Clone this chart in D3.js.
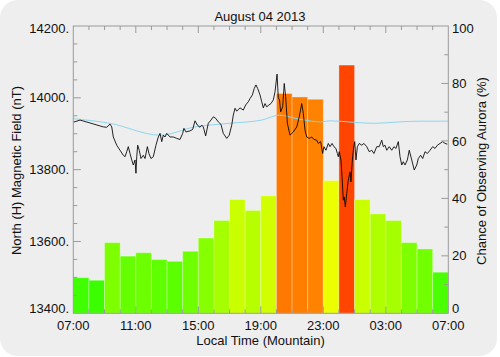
<!DOCTYPE html>
<html>
<head>
<meta charset="utf-8">
<script src="https://d3js.org/d3.v7.min.js"></script>
<style>
  html, body { margin: 0; padding: 0; background: #ffffff; }
  svg { display: block; }
  text { font-family: "Liberation Sans", Arial, sans-serif; fill: #111; }
</style>
</head>
<body>
<div id="chart"></div>
<script>
// ---------------- data ----------------
const chartTitle = "August 04 2013";
const xTitle = "Local Time (Mountain)";
const yLeftTitle = "North (H) Magnetic Field (nT)";
const yRightTitle = "Chance of Observing Aurora (%)";

// hourly aurora chance (%), one bar per hour starting 07:00
const barHours = d3.range(24);
const auroraChance = [12.4, 11.5, 24.6, 19.9, 21.1, 18.7, 18.1, 21.6, 26.2, 32.3, 39.6, 35.8,
                      40.9, 76.5, 75.3, 74.5, 46.2, 86.4, 39.6, 34.6, 32.3, 24.6, 22.4, 14.3];

// magnetometer H component (hours after 07:00, nT)
const magHours = [0, 0.43, 1.07, 1.92, 2.14, 2.35, 2.46, 2.56, 2.78, 2.99, 3.2, 3.31, 3.42, 3.52, 3.63, 3.74,
  3.84, 3.95, 4.01, 4.06, 4.12, 4.22, 4.33, 4.48, 4.59, 4.74, 4.84, 4.97, 5.12, 5.29, 5.44, 5.55, 5.66, 5.76,
  5.87, 5.98, 6.19, 6.4, 6.62, 6.83, 7.0, 7.08, 7.21, 7.47, 7.64, 7.79, 7.94, 8.11, 8.22, 8.32, 8.47, 8.64,
  8.81, 8.96, 9.11, 9.28, 9.45, 9.6, 9.82, 9.98, 10.14, 10.24, 10.35, 10.46, 10.67, 10.88, 11.03, 11.2, 11.31,
  11.46, 11.58, 11.69, 11.8, 11.95, 12.06, 12.16, 12.27, 12.38, 12.52, 12.65, 12.8, 12.91, 13.04, 13.12, 13.2,
  13.27, 13.4, 13.5, 13.59, 13.7, 13.87, 14.08, 14.3, 14.46, 14.62, 14.72, 14.83, 14.94, 15.1, 15.26, 15.4,
  15.58, 15.68, 15.83, 15.96, 16.04, 16.17, 16.32, 16.43, 16.56, 16.68, 16.81, 16.9, 16.96, 17.02, 17.13,
  17.2, 17.28, 17.34, 17.41, 17.5, 17.6, 17.71, 17.77, 17.86, 17.92, 18.01, 18.09, 18.18, 18.3, 18.46, 18.6,
  18.78, 18.94, 19.1, 19.24, 19.42, 19.58, 19.74, 19.84, 19.95, 20.06, 20.22, 20.38, 20.52, 20.65, 20.8,
  20.91, 21.02, 21.12, 21.23, 21.38, 21.5, 21.66, 21.82, 21.98, 22.08, 22.23, 22.36, 22.51, 22.66, 22.83,
  23.0, 23.15, 23.3, 23.47, 23.64, 23.79, 23.94];
const magNT = [13932, 13938, 13930, 13919, 13918, 13927, 13919, 13891, 13868, 13854, 13840, 13836, 13850,
  13864, 13845, 13827, 13813, 13827, 13790, 13836, 13868, 13854, 13831, 13840, 13831, 13864, 13845, 13831,
  13836, 13868, 13891, 13901, 13878, 13896, 13891, 13901, 13891, 13891, 13887, 13884, 13901, 13915, 13905,
  13908, 13912, 13936, 13924, 13918, 13924, 13919, 13894, 13929, 13938, 13947, 13943, 13933, 13926, 13901,
  13887, 13896, 13924, 13952, 13971, 13963, 13972, 13966, 13980, 13989, 13998, 14008, 14026, 14036, 14026,
  14008, 13989, 13972, 13984, 13975, 13980, 13984, 13994, 14017, 14066, 14000, 13994, 13961, 13975, 14040,
  14003, 13929, 13896, 13905, 13919, 13947, 13984, 13957, 13910, 13891, 13887, 13891, 13884, 13882, 13873,
  13878, 13845, 13864, 13854, 13873, 13864, 13873, 13864, 13859, 13845, 13836, 13850, 13827, 13780, 13715,
  13724, 13696, 13734, 13771, 13794, 13766, 13827, 13854, 13878, 13827, 13864, 13873, 13868, 13873, 13864,
  13850, 13854, 13845, 13864, 13864, 13882, 13864, 13868, 13854, 13864, 13854, 13864, 13859, 13878, 13836,
  13813, 13822, 13813, 13827, 13854, 13827, 13799, 13813, 13831, 13840, 13831, 13850, 13845, 13854, 13864,
  13859, 13868, 13873, 13878, 13873, 13871];

// smooth quiet-day baseline (hours after 07:00, nT)
const baseHours = [0, 2.35, 5.55, 7.79, 9.98, 12.06, 13.2, 14.2, 15.26, 15.83, 16.43, 17.92, 19.2, 20.91, 22.2, 24];
const baseNT = [13942, 13929, 13896, 13919, 13929, 13938, 13952, 13943, 13935, 13933, 13936, 13932, 13929, 13933, 13935, 13935];

// tick labels
const xTickHours = [0, 4, 8, 12, 16, 20, 24];
const xTickLabels = ["07:00", "11:00", "15:00", "19:00", "23:00", "03:00", "07:00"];
const yLeftTicks = [13400, 13600, 13800, 14000, 14200];
const yLeftTickLabels = ["13400.", "13600.", "13800.", "14000.", "14200."];
const yRightTicks = [0, 20, 40, 60, 80, 100];
const yRightTickLabels = ["0", "20", "40", "60", "80", "100"];

// ---------------- drawing ----------------
const W = 500, H = 357;
const svg = d3.select("#chart").append("svg").attr("width", W).attr("height", H);

// background panel
svg.append("rect").attr("x", 0).attr("y", 0).attr("width", 497).attr("height", 356)
  .attr("rx", 18).attr("ry", 18).attr("fill", "#eeeeee");

const x = d3.scaleLinear().domain([0, 24]).range([73.3, 448.3]);
const yL = d3.scaleLinear().domain([13400, 14200]).range([313.3, 26]);
const yR = d3.scaleLinear().domain([0, 100]).range([313.3, 26]);
const color = v => d3.hsl(120 * (1 - v / 100), 1, 0.5).formatHex();

// bars
svg.append("g").selectAll("rect").data(barHours).join("rect")
  .attr("x", h => x(h))
  .attr("width", h => x(h + 1) - x(h))
  .attr("y", (h, i) => yR(auroraChance[i]))
  .attr("height", (h, i) => yR(0) - yR(auroraChance[i]))
  .attr("fill", (h, i) => color(auroraChance[i]))
  .attr("stroke", "rgba(255,255,255,0.3)")
  .attr("stroke-width", 1);

// baseline line
const baseLine = d3.line().x(d => x(d[0])).y(d => yL(d[1])).curve(d3.curveMonotoneX);
svg.append("path").datum(baseHours.map((h, i) => [h, baseNT[i]]))
  .attr("d", baseLine).attr("fill", "none").attr("stroke", "#8fd6ef").attr("stroke-width", 1);

// magnetometer line
const magLine = d3.line().x(d => x(d[0])).y(d => yL(d[1]));
svg.append("path").datum(magHours.map((h, i) => [h, magNT[i]]))
  .attr("d", magLine).attr("fill", "none").attr("stroke", "#000").attr("stroke-opacity", 0.85).attr("stroke-width", 1);

// frame
const axisColor = "#9a9a9a";
const frame = svg.append("g").attr("stroke", axisColor).attr("fill", "none").attr("stroke-width", 1);
frame.append("rect").attr("x", x(0)).attr("y", yL(14200))
  .attr("width", x(24) - x(0)).attr("height", yL(13400) - yL(14200));

// x ticks (top and bottom, every hour)
const ticksG = svg.append("g").attr("stroke", axisColor).attr("stroke-width", 1);
d3.range(1, 24).forEach(h => {
  const len = h % 4 === 0 ? 7 : 4;
  ticksG.append("line").attr("x1", x(h)).attr("x2", x(h)).attr("y1", yL(14200)).attr("y2", yL(14200) + len);
  ticksG.append("line").attr("x1", x(h)).attr("x2", x(h)).attr("y1", yL(13400)).attr("y2", yL(13400) - len);
});
// left ticks every 50 nT
d3.range(13450, 14200, 50).forEach(v => {
  const len = v % 200 === 0 ? 7.5 : 4;
  ticksG.append("line").attr("x1", x(0)).attr("x2", x(0) + len).attr("y1", yL(v)).attr("y2", yL(v));
});
// right ticks every 10 %
d3.range(10, 100, 10).forEach(v => {
  const len = v % 20 === 0 ? 7 : 4;
  ticksG.append("line").attr("x1", x(24)).attr("x2", x(24) - len).attr("y1", yR(v)).attr("y2", yR(v));
});

// labels
const fs = 13;
svg.append("text").attr("x", 260).attr("y", 20.5).attr("text-anchor", "middle")
  .attr("font-size", fs).text(chartTitle);

const edgeDy = (i, n) => i === 0 ? 0 : (i === n - 1 ? 7 : 4.6);
yLeftTicks.forEach((v, i) => {
  svg.append("text").attr("x", 69).attr("y", yL(v) + edgeDy(i, yLeftTicks.length))
    .attr("text-anchor", "end").attr("font-size", fs).text(yLeftTickLabels[i]);
});
yRightTicks.forEach((v, i) => {
  svg.append("text").attr("x", 452).attr("y", yR(v) + edgeDy(i, yRightTicks.length))
    .attr("text-anchor", "start").attr("font-size", fs).text(yRightTickLabels[i]);
});
xTickHours.forEach((h, i) => {
  svg.append("text").attr("x", x(h)).attr("y", 330).attr("text-anchor", "middle")
    .attr("font-size", fs).text(xTickLabels[i]);
});
svg.append("text").attr("x", 260.5).attr("y", 345).attr("text-anchor", "middle")
  .attr("font-size", fs).text(xTitle);
svg.append("text").attr("transform", "translate(21,170.5) rotate(-90)").attr("text-anchor", "middle")
  .attr("font-size", fs).text(yLeftTitle);
svg.append("text").attr("transform", "translate(486,171) rotate(-90)").attr("text-anchor", "middle")
  .attr("font-size", fs).text(yRightTitle);
</script>
</body>
</html>
